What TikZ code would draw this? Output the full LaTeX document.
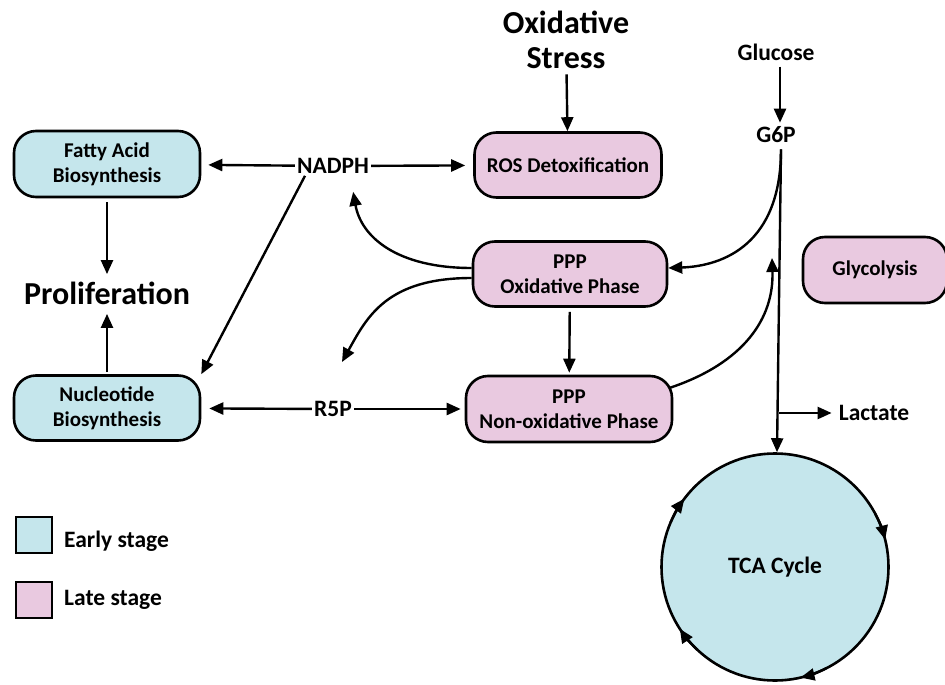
\documentclass[tikz,border=0pt]{standalone}
\usepackage{fontspec}
\setmainfont{Carlito}
\usetikzlibrary{arrows.meta,calc}
\definecolor{earlyblue}{RGB}{197,230,236}
\definecolor{latepink}{RGB}{233,201,224}
\tikzset{
  stage/.style={ % rounded box of a pathway
    draw, line width=2.6pt, rounded corners=22pt, align=center,
    text=black, inner sep=0pt,
    font=\bfseries\fontsize{21}{25}\selectfont
  },
  early/.style={stage, fill=earlyblue},  % early stage box
  late/.style={stage, fill=latepink},    % late stage box
  metab/.style={font=\bfseries\fontsize{23.5}{26}\selectfont, inner sep=2pt},
  big/.style={font=\bfseries\fontsize{32}{35}\selectfont, align=center},
  arr/.style={-{Triangle[length=14pt,width=12pt]}, line width=2.4pt},
  key/.style={draw, line width=2.6pt, minimum size=36pt, inner sep=0pt}
}

\begin{document}
\begin{tikzpicture}[x=1pt, y=-1pt]
  \useasboundingbox (0,0) rectangle (945,685);

  \node[early, minimum width=186pt, minimum height=66pt] (fatty) at (107,164) {Fatty Acid\\Biosynthesis};
  \node[early, minimum width=186pt, minimum height=65pt] (nuc) at (107,408) {Nucleotide\\Biosynthesis};
  \node[big] (prolif) at (107,293) {Proliferation};
  \node[metab] (nadph) at (333,166) {NADPH};
  \node[metab] (r5p) at (333,409) {R5P};

  \node[late, minimum width=187pt, minimum height=65pt] (ros) at (568,165) {ROS Detoxification};
  \node[late, minimum width=194pt, minimum height=65pt] (ppox) at (570,274) {PPP\\Oxidative Phase};
  \node[late, minimum width=206pt, minimum height=66pt] (ppnon) at (569,409) {PPP\\Non-oxidative Phase};
  \node[late, minimum width=144pt, minimum height=66pt] (glyc) at (875,270) {Glycolysis};
  \node[big] (stress) at (566,40) {Oxidative\\Stress};

  \node[metab] (glucose) at (776,52) {Glucose};
  \node[metab] (g6p) at (776,135) {G6P};
  \node[metab] (lactate) at (874,413) {Lactate};
  \node[circle, draw, line width=2.6pt, fill=earlyblue, minimum size=227pt,
        font=\bfseries\fontsize{23.5}{26}\selectfont] (tca) at (775,567) {TCA Cycle};

  \coordinate (branch) at (779,413);
  \coordinate (r5p_in) at (342,362);
  \coordinate (g6p_line) at (772,258);

  % legend
  \node[key, fill=earlyblue] (key_early) at (34,535) {};
  \node[key, fill=latepink] (key_late) at (34,600) {};
  \node[metab, anchor=west] (early_label) at (62,541) {Early stage};
  \node[metab, anchor=west] (late_label) at (62,600) {Late stage};

  % straight connectors
  \draw[arr, shorten >=7pt] (nadph) -- (fatty);
  \draw[arr, shorten >=8pt] (nadph) -- (ros);
  \draw[arr, shorten >=8pt] (r5p) -- (nuc);
  \draw[arr, shorten >=4pt] (r5p) -- (ppnon);
  \draw[arr] ([xshift=-28pt]nadph.south) -- (nuc.north east);
  \draw[arr, shorten <=4pt, shorten >=4pt] (fatty) -- (prolif);
  \draw[arr, shorten <=2pt, shorten >=6pt] (nuc) -- (prolif);
  \draw[arr, shorten <=2pt] (stress) -- (ros);
  \draw[arr, shorten <=4pt, shorten >=2pt] (ppox) -- (ppnon);
  \draw[arr, shorten <=4pt, shorten >=2pt] ([xshift=4pt]glucose.south) -- ([xshift=4pt]g6p.north);
  \draw[arr] ([xshift=5pt,yshift=-4pt]g6p.south) -- ([xshift=2pt]tca.north);
  \draw[arr] (branch) -- ([xshift=-5pt]lactate.west);

  % curved connectors
  \draw[arr] ([xshift=5pt,yshift=-4pt]g6p.south) .. controls +(0,95) and +(55,-2) .. ([yshift=6pt]ppox.east);
  \draw[arr] ([yshift=6pt]ppox.west) .. controls +(-75,0) and +(8,45) .. ([xshift=-18pt,yshift=-16pt]nadph.south east);
  \draw[arr] ([yshift=-4pt]ppox.west) .. controls +(-85,0) and +(25,-45) .. (r5p_in);
  \draw[arr] ($(ppnon.east)+(-4,-21)$) .. controls +(75,-25) and +(2,60) .. (g6p_line);

  % arrowheads round the cycle
  \foreach \a in {217,346,77,147}
    \draw[arr] (tca.center) ++(\a-14:113.5) arc[start angle=\a-14, end angle=\a, radius=113.5];
\end{tikzpicture}
\end{document}
